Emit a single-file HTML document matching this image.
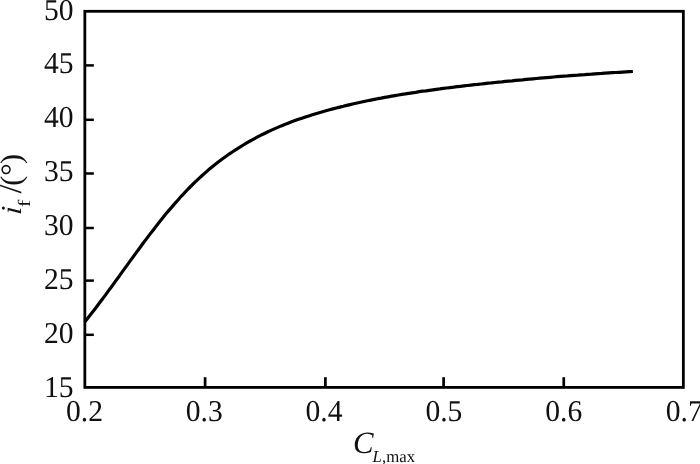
<!DOCTYPE html>
<html><head><meta charset="utf-8"><title>chart</title>
<style>
html,body{margin:0;padding:0;background:#fff;}
svg{display:block}
text{text-rendering:geometricPrecision;font-family:"Liberation Serif","Times New Roman",serif;fill:#111;}
.t{font-size:30.3px}
</style></head><body>
<svg width="700" height="464" viewBox="0 0 700 464">
<rect width="700" height="464" fill="#fff"/>
<rect x="84.85" y="11.3" width="598.5" height="376.1" fill="none" stroke="#000" stroke-width="2.8"/>
<line x1="84.85" y1="65.4" x2="93.85" y2="65.4" stroke="#000" stroke-width="2.5"/>
<line x1="84.85" y1="119.8" x2="93.85" y2="119.8" stroke="#000" stroke-width="2.5"/>
<line x1="84.85" y1="173.5" x2="93.85" y2="173.5" stroke="#000" stroke-width="2.5"/>
<line x1="84.85" y1="228.0" x2="93.85" y2="228.0" stroke="#000" stroke-width="2.5"/>
<line x1="84.85" y1="280.6" x2="93.85" y2="280.6" stroke="#000" stroke-width="2.5"/>
<line x1="84.85" y1="334.8" x2="93.85" y2="334.8" stroke="#000" stroke-width="2.5"/>
<line x1="205.1" y1="387.4" x2="205.1" y2="377.2" stroke="#000" stroke-width="2.7"/>
<line x1="325.4" y1="387.4" x2="325.4" y2="377.2" stroke="#000" stroke-width="2.7"/>
<line x1="443.6" y1="387.4" x2="443.6" y2="377.2" stroke="#000" stroke-width="2.7"/>
<line x1="563.75" y1="387.4" x2="563.75" y2="377.2" stroke="#000" stroke-width="2.7"/>
<path d="M84.7,322.1 L88.1,317.7 L91.6,313.3 L95.0,308.9 L98.5,304.3 L101.9,299.7 L105.4,295.1 L108.8,290.4 L112.3,285.7 L115.7,280.9 L119.2,276.2 L122.6,271.4 L126.1,266.6 L129.5,261.9 L133.0,257.1 L136.4,252.4 L139.9,247.7 L143.3,243.0 L146.8,238.4 L150.2,233.9 L153.7,229.4 L157.1,224.9 L160.6,220.6 L164.0,216.3 L167.4,212.1 L170.9,208.1 L174.3,204.1 L177.8,200.2 L181.2,196.3 L184.7,192.6 L188.1,189.0 L191.6,185.5 L195.0,182.1 L198.5,178.8 L201.9,175.7 L205.4,172.6 L208.8,169.6 L212.3,166.7 L215.7,164.0 L219.2,161.3 L222.6,158.7 L226.1,156.2 L229.5,153.8 L233.0,151.5 L236.4,149.3 L239.9,147.1 L243.3,145.0 L246.7,142.9 L250.2,141.0 L253.6,139.1 L257.1,137.2 L260.5,135.4 L264.0,133.7 L267.4,132.0 L270.9,130.4 L274.3,128.9 L277.8,127.4 L281.2,125.9 L284.7,124.5 L288.1,123.2 L291.6,121.8 L295.0,120.6 L298.5,119.3 L301.9,118.2 L305.4,117.0 L308.8,115.9 L312.3,114.8 L315.7,113.7 L319.2,112.7 L322.6,111.7 L326.0,110.8 L329.5,109.8 L332.9,108.9 L336.4,108.0 L339.8,107.1 L343.3,106.3 L346.7,105.4 L350.2,104.6 L353.6,103.8 L357.1,103.0 L360.5,102.3 L364.0,101.5 L367.4,100.8 L370.9,100.1 L374.3,99.4 L377.8,98.7 L381.2,98.1 L384.7,97.4 L388.1,96.8 L391.6,96.2 L395.0,95.6 L398.4,95.0 L401.9,94.4 L405.3,93.9 L408.8,93.3 L412.2,92.8 L415.7,92.3 L419.1,91.7 L422.6,91.2 L426.0,90.8 L429.5,90.3 L432.9,89.8 L436.4,89.3 L439.8,88.9 L443.3,88.4 L446.7,88.0 L450.2,87.6 L453.6,87.2 L457.1,86.7 L460.5,86.3 L464.0,85.9 L467.4,85.5 L470.9,85.1 L474.3,84.7 L477.7,84.4 L481.2,84.0 L484.6,83.6 L488.1,83.2 L491.5,82.9 L495.0,82.5 L498.4,82.1 L501.9,81.8 L505.3,81.4 L508.8,81.1 L512.2,80.8 L515.7,80.4 L519.1,80.1 L522.6,79.8 L526.0,79.4 L529.5,79.1 L532.9,78.8 L536.4,78.5 L539.8,78.2 L543.3,77.9 L546.7,77.6 L550.2,77.3 L553.6,77.0 L557.0,76.7 L560.5,76.4 L563.9,76.1 L567.4,75.9 L570.8,75.6 L574.3,75.3 L577.7,75.1 L581.2,74.8 L584.6,74.6 L588.1,74.3 L591.5,74.1 L595.0,73.8 L598.4,73.6 L601.9,73.4 L605.3,73.1 L608.8,72.9 L612.2,72.7 L615.7,72.5 L619.1,72.3 L622.6,72.1 L626.0,71.9 L629.5,71.7 L632.9,71.5" fill="none" stroke="#000" stroke-width="3.2" stroke-linejoin="round"/>
<text class="t" transform="translate(73.6,19.6) scale(0.977,1)" text-anchor="end">50</text>
<text class="t" transform="translate(73.6,73.3) scale(0.977,1)" text-anchor="end">45</text>
<text class="t" transform="translate(73.6,127.3) scale(0.977,1)" text-anchor="end">40</text>
<text class="t" transform="translate(73.6,181.3) scale(0.977,1)" text-anchor="end">35</text>
<text class="t" transform="translate(73.6,235.3) scale(0.977,1)" text-anchor="end">30</text>
<text class="t" transform="translate(73.6,289.1) scale(0.977,1)" text-anchor="end">25</text>
<text class="t" transform="translate(73.6,343.0) scale(0.977,1)" text-anchor="end">20</text>
<text class="t" transform="translate(73.6,397.4) scale(0.977,1)" text-anchor="end">15</text>
<text class="t" transform="translate(84.5,421.0) scale(0.977,1)" text-anchor="middle">0.2</text>
<text class="t" transform="translate(204.2,421.0) scale(0.977,1)" text-anchor="middle">0.3</text>
<text class="t" transform="translate(324.0,421.0) scale(0.977,1)" text-anchor="middle">0.4</text>
<text class="t" transform="translate(443.9,421.0) scale(0.977,1)" text-anchor="middle">0.5</text>
<text class="t" transform="translate(563.8,421.0) scale(0.977,1)" text-anchor="middle">0.6</text>
<text class="t" transform="translate(684.3,421.0) scale(0.977,1)" text-anchor="middle">0.7</text>
<text x="353.0" y="452.7" font-size="30.8px"><tspan font-style="italic">C</tspan></text>
<text x="372.6" y="461.8" font-size="16.8px"><tspan font-style="italic">L</tspan>,max</text>
<g transform="translate(20.6,218.6) rotate(-90)"><text transform="translate(3.7,0) skewX(-4)" font-size="29px" font-style="italic">i</text><text transform="translate(11.4,9.5) scale(1.28,1)" font-size="17.4px">f</text><text x="25" y="0" font-size="33.5px">/</text><text x="32.8" y="0" font-size="30px">(</text><text x="42.9" y="1" font-size="31px">°</text><text x="54.6" y="0" font-size="30px">)</text></g>
</svg></body></html>
